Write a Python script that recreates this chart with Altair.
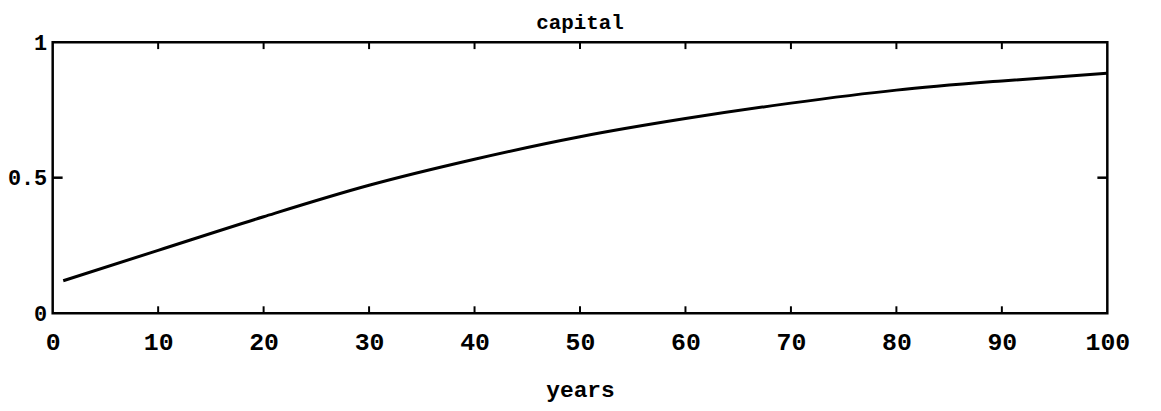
import altair as alt
import pandas as pd

# data
years = [1, 10, 20, 30, 40, 50, 60, 70, 80, 90, 100]
capital = [0.12, 0.232, 0.356, 0.472, 0.568, 0.651, 0.718, 0.775, 0.823, 0.857, 0.885]
x_ticks = [0, 10, 20, 30, 40, 50, 60, 70, 80, 90, 100]
inner_x_ticks = [10, 20, 30, 40, 50, 60, 70, 80, 90]
y_ticks = [0, 0.5, 1]
inner_y_ticks = [0.5]

W, H = 1062, 273
FONT = "Liberation Mono"

df = pd.DataFrame({"year": years, "capital": capital})
xt = pd.DataFrame({"t": inner_x_ticks})
yt = pd.DataFrame({"v": inner_y_ticks})

xscale = alt.Scale(domain=[0, 100], nice=False, zero=False)
yscale = alt.Scale(domain=[0, 1], nice=False)

line = alt.Chart(df).mark_line(color="black", strokeWidth=3, interpolate="monotone").encode(
    x=alt.X("year:Q", scale=xscale,
            axis=alt.Axis(values=x_ticks, title="years", domain=False, ticks=False, grid=False,
                          labelFont=FONT, labelFontSize=25, labelFontWeight="bold", labelColor="black",
                          labelPadding=17, labelFlush=False, labelOverlap=False,
                          titleFont=FONT, titleFontSize=23, titleFontWeight="bold",
                          titleColor="black", titlePadding=24)),
    y=alt.Y("capital:Q", scale=yscale,
            axis=alt.Axis(values=y_ticks, format="~g", title=None, domain=False, ticks=False, grid=False,
                          labelFont=FONT, labelFontSize=22, labelFontWeight="bold", labelColor="black",
                          labelPadding=6, labelFlush=False)),
)

bottom_ticks = alt.Chart(xt).mark_rule(color="black", strokeWidth=2).encode(
    x=alt.X("t:Q", scale=xscale), y=alt.value(H), y2=alt.value(H - 7))
top_ticks = alt.Chart(xt).mark_rule(color="black", strokeWidth=2).encode(
    x=alt.X("t:Q", scale=xscale), y=alt.value(0), y2=alt.value(7))
left_ticks = alt.Chart(yt).mark_rule(color="black", strokeWidth=2.5).encode(
    y=alt.Y("v:Q", scale=yscale), x=alt.value(0), x2=alt.value(10))
right_ticks = alt.Chart(yt).mark_rule(color="black", strokeWidth=2.5).encode(
    y=alt.Y("v:Q", scale=yscale), x=alt.value(W), x2=alt.value(W - 10))

chart = alt.layer(line, bottom_ticks, top_ticks, left_ticks, right_ticks).properties(
    width=W, height=H,
    title=alt.TitleParams("capital", font=FONT, fontSize=21, fontWeight="bold", color="black",
                          anchor="middle", offset=-2, frame="group"),
    padding={"left": 45, "top": 33, "right": 46, "bottom": 89},
    autosize="none",
    background="white",
).configure_view(stroke="black", strokeWidth=2.5)

chart.save("out.html", embed_options={"renderer": "svg", "actions": False})
